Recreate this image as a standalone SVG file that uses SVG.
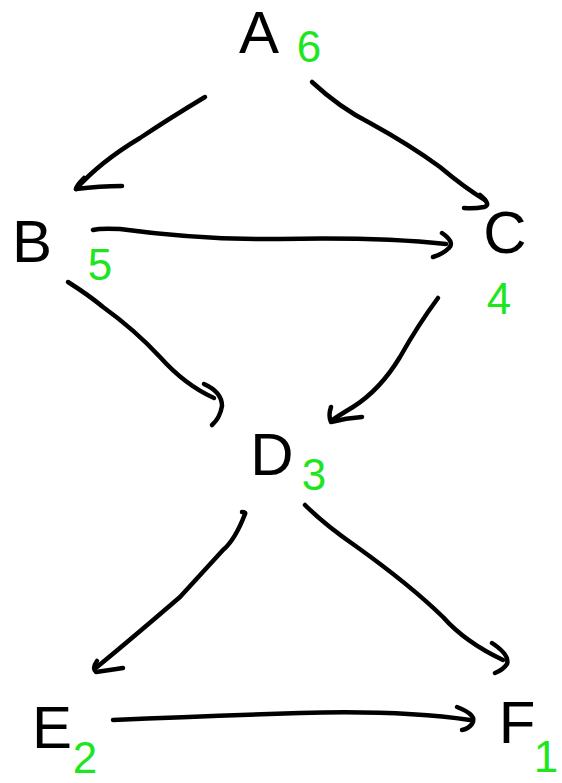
<svg xmlns="http://www.w3.org/2000/svg" width="562" height="783" viewBox="0 0 562 783">
<style>
.lbl{font-family:"Liberation Sans",Arial,sans-serif;font-size:60px;fill:#000;text-anchor:middle}
.num{font-family:"Liberation Sans",Arial,sans-serif;font-size:44px;fill:#1ee61e;text-anchor:middle}
.edge{fill:none;stroke:#000;stroke-width:4.5;stroke-linecap:round;stroke-linejoin:round}
</style>
<rect width="562" height="783" fill="#fff"/>
<g id="connectors">
  <g id="e-A-B"><path class="edge" d="M205,97 Q170,118 140,138 Q100,162 76,189"/><path class="edge" d="M84,178 Q76,186 76,189 Q100,186 122,186"/></g>
  <g id="e-A-C"><path class="edge" d="M312,82 Q340,108 370,123 Q410,145 440,167 Q465,188 485,200"/><path class="edge" d="M480,195 Q492,205 484,207 Q474,209 464,208"/></g>
  <g id="e-B-C"><path class="edge" d="M93,230 Q100,228 120,229 Q200,240 280,239 Q380,237 446,244"/><path class="edge" d="M442,233 Q455,242 449,248 Q443,254 433,257"/></g>
  <g id="e-B-D"><path class="edge" d="M68,282 Q90,296 103,307 Q135,330 160,357 Q185,385 214,398"/><path class="edge" d="M204,384 Q222,392 222,406 Q220,418 212,425"/></g>
  <g id="e-C-D"><path class="edge" d="M438,298 Q418,325 400,357 Q380,390 353,407 Q338,416 331,421"/><path class="edge" d="M331,407 Q328,416 331,422 Q346,418 362,417"/></g>
  <g id="e-D-E"><path class="edge" d="M242,512 Q246,512 245,514 Q235,540 223,550 Q200,575 180,597 Q130,640 97,667"/><path class="edge" d="M97,661 Q92,668 96,672 Q110,670 123,668"/></g>
  <g id="e-D-F"><path class="edge" d="M305,505 Q325,525 357,547 Q410,585 443,617 Q465,642 503,660"/><path class="edge" d="M492,643 Q510,655 507,664 Q503,670 495,673"/></g>
  <g id="e-E-F"><path class="edge" d="M113,720 Q200,716 300,713 Q400,710 470,720"/><path class="edge" d="M457,707 Q478,715 472,724 Q468,729 462,730"/></g>
</g>
<g id="node-A"><text class="lbl" x="259" y="53">A</text><text class="num" x="309" y="62">6</text></g>
<g id="node-B"><text class="lbl" x="32" y="262">B</text><text class="num" x="100" y="280">5</text></g>
<g id="node-C"><text class="lbl" x="505" y="253">C</text><text class="num" x="499" y="314">4</text></g>
<g id="node-D"><text class="lbl" x="272" y="475">D</text><text class="num" x="314" y="490">3</text></g>
<g id="node-E"><text class="lbl" x="52" y="748">E</text><text class="num" x="85" y="773">2</text></g>
<g id="node-F"><text class="lbl" x="517" y="743">F</text><text class="num" x="546" y="772">1</text></g>
</svg>
